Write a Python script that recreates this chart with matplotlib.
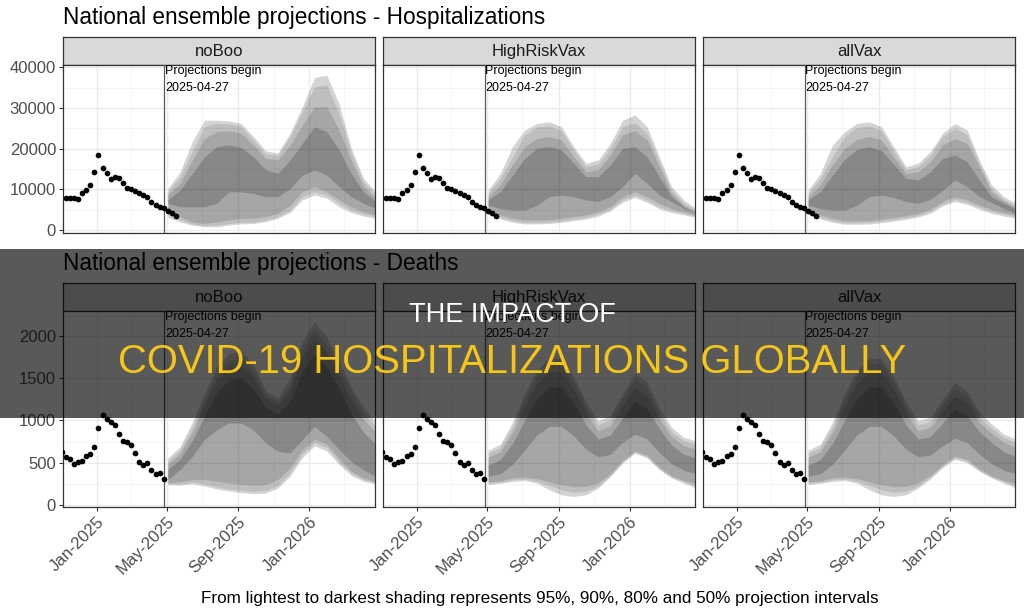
import matplotlib.pyplot as plt
import matplotlib.dates as mdates
import matplotlib.ticker as mticker
from matplotlib.patches import Rectangle
import pandas as pd

plt.rcParams["font.family"] = ["Liberation Sans", "DejaVu Sans"]

SCENARIOS = ["noBoo", "HighRiskVax", "allVax"]
PROJ_START = pd.Timestamp("2025-04-27")

# observed weekly data (same in every scenario panel)
obs_hosp_dates = pd.date_range("2024-11-09", periods=28, freq="7D")
obs_hosp = [7870, 7870, 7870, 7700, 9000, 9800, 11000, 14200, 18500, 15300, 14000, 12600,
            13100, 12900, 11600, 10400, 10100, 9600, 9100, 8500, 8000, 7000, 6100, 5700,
            5400, 4700, 4100, 3500]
obs_death_dates = pd.date_range("2024-11-02", periods=26, freq="7D")
obs_death = [623, 567, 544, 484, 512, 516, 575, 607, 687, 917, 1063, 1016, 980, 952, 841,
             762, 746, 706, 619, 508, 468, 496, 417, 365, 377, 313]

# projection dates (every 3 weeks)
proj_dates = pd.date_range("2025-05-03", periods=18, freq="21D")

# --- hospitalizations: quantile bounds ---
h_noboo_lo95 = [3100, 2000, 1200, 800, 800, 1200, 1500, 1600, 2000, 2900, 4300, 7400, 8600, 7800, 5700, 4300, 3400, 2900]
h_noboo_lo90 = [3700, 2500, 1500, 1100, 1200, 1600, 1900, 1900, 2500, 3300, 4900, 8200, 9400, 8600, 6600, 4900, 3900, 3300]
h_noboo_lo80 = [4500, 3300, 2000, 1600, 2000, 2500, 2900, 2900, 3300, 4100, 6100, 9400, 10700, 9400, 7400, 5700, 4500, 3700]
h_noboo_lo50 = [6600, 5700, 5700, 5700, 6600, 9400, 9400, 9000, 8200, 8200, 10200, 13500, 14800, 13500, 10700, 8200, 6600, 5300]
h_noboo_hi50 = [7400, 9800, 13900, 18000, 20500, 20900, 20300, 18000, 14800, 13900, 17200, 21300, 25400, 24200, 19700, 13900, 9400, 7000]
h_noboo_hi80 = [8600, 11500, 17200, 22500, 24200, 24400, 23800, 20900, 17600, 17200, 20900, 25800, 30300, 30300, 24600, 17200, 10700, 7800]
h_noboo_hi90 = [9400, 13100, 19300, 25400, 26200, 26100, 25400, 22100, 18700, 18400, 23000, 29100, 35200, 35700, 28700, 18900, 11900, 8600]
h_noboo_hi95 = [10200, 14300, 21700, 27000, 27000, 26800, 26200, 23000, 19500, 18900, 23800, 30300, 37500, 38100, 31100, 20100, 12700, 9400]

h_hrv_lo95 = [3900, 2700, 1900, 1500, 1500, 1600, 1900, 2300, 2700, 3400, 4700, 6800, 8000, 6800, 5200, 4300, 3700, 3100]
h_hrv_lo90 = [4300, 3100, 2300, 1900, 1900, 2000, 2300, 2700, 3100, 3900, 5100, 7400, 8600, 7400, 5700, 4800, 4100, 3400]
h_hrv_lo80 = [4900, 3700, 2900, 2500, 2500, 2500, 2900, 3300, 3700, 4500, 5700, 8200, 9400, 8200, 6600, 5300, 4500, 3700]
h_hrv_lo50 = [6100, 5300, 4900, 4900, 6100, 8200, 8600, 8200, 7400, 7000, 8200, 10700, 13900, 11500, 8600, 7000, 5300, 4100]
h_hrv_hi50 = [7400, 9400, 13500, 17600, 20100, 20500, 19700, 16400, 13100, 13100, 16000, 20100, 20500, 18000, 13100, 8200, 5700, 4100]
h_hrv_hi80 = [8200, 11100, 16000, 20500, 22500, 23000, 22100, 18000, 14300, 14800, 18400, 23400, 24400, 22100, 15600, 9000, 6100, 4500]
h_hrv_hi90 = [9000, 12700, 18000, 23400, 25400, 25600, 24400, 19700, 15600, 16200, 20100, 25400, 26400, 23800, 16800, 9800, 6600, 4900]
h_hrv_hi95 = [9800, 13900, 20500, 24600, 26200, 26600, 25400, 20500, 16400, 17200, 21300, 27000, 28300, 25400, 18000, 10700, 7400, 5300]

h_allvax_lo95 = [3900, 2700, 1900, 1400, 1400, 1500, 1800, 2200, 2600, 3200, 4100, 5900, 7000, 6300, 5100, 4100, 3400, 2900]
h_allvax_lo90 = [4300, 3100, 2300, 1800, 1800, 1900, 2200, 2600, 3000, 3600, 4600, 6400, 7500, 6800, 5600, 4600, 3900, 3300]
h_allvax_lo80 = [4900, 3700, 2900, 2300, 2300, 2300, 2700, 3100, 3500, 4100, 5100, 7000, 8200, 7400, 6100, 5100, 4300, 3700]
h_allvax_lo50 = [6100, 5300, 4900, 4900, 6100, 8200, 8600, 8000, 7000, 6600, 7500, 9800, 12300, 10700, 8200, 6700, 5300, 4100]
h_allvax_hi50 = [7400, 9400, 13500, 17400, 19800, 20500, 19500, 16200, 12700, 12300, 14300, 17600, 18400, 16800, 12300, 8200, 6600, 5100]
h_allvax_hi80 = [8200, 11100, 16000, 20100, 22300, 23000, 22100, 18000, 13900, 14300, 16800, 20900, 22500, 21300, 15600, 9400, 7100, 5600]
h_allvax_hi90 = [9000, 12700, 18000, 23000, 25200, 25600, 24400, 19500, 14800, 15600, 18400, 23000, 25000, 23400, 16400, 10200, 7500, 5900]
h_allvax_hi95 = [9800, 13900, 20900, 24200, 26200, 26600, 25400, 20500, 15600, 16400, 19300, 23800, 26200, 24600, 17200, 11100, 8200, 6600]

# --- deaths: quantile bounds ---
d_noboo_lo95 = [240, 235, 250, 225, 190, 165, 145, 135, 140, 200, 340, 560, 700, 640, 480, 350, 280, 250]
d_noboo_lo90 = [250, 250, 270, 250, 215, 190, 170, 160, 170, 230, 380, 600, 740, 680, 510, 375, 300, 262]
d_noboo_lo80 = [265, 275, 300, 300, 280, 260, 245, 235, 240, 300, 440, 650, 780, 720, 550, 400, 320, 275]
d_noboo_lo50 = [300, 420, 575, 775, 890, 970, 970, 890, 735, 635, 615, 775, 930, 815, 655, 515, 415, 335]
d_noboo_hi50 = [420, 540, 760, 1050, 1330, 1480, 1500, 1380, 1150, 1080, 1230, 1580, 1780, 1640, 1380, 1080, 860, 720]
d_noboo_hi80 = [480, 610, 860, 1180, 1480, 1630, 1660, 1520, 1260, 1180, 1360, 1760, 1980, 1810, 1530, 1240, 1010, 860]
d_noboo_hi90 = [520, 650, 920, 1250, 1560, 1710, 1740, 1590, 1310, 1220, 1430, 1850, 2080, 1900, 1620, 1330, 1090, 930]
d_noboo_hi95 = [555, 690, 980, 1320, 1640, 1790, 1820, 1660, 1360, 1260, 1500, 1940, 2170, 1990, 1700, 1400, 1150, 990]

d_hrv_lo95 = [240, 258, 278, 290, 258, 180, 120, 100, 120, 200, 337, 496, 615, 556, 420, 320, 258, 200]
d_hrv_lo90 = [258, 270, 300, 305, 280, 230, 180, 150, 160, 225, 350, 510, 625, 570, 430, 330, 275, 225]
d_hrv_lo80 = [275, 285, 320, 330, 310, 275, 240, 215, 220, 265, 370, 530, 640, 590, 450, 345, 290, 255]
d_hrv_lo50 = [340, 370, 480, 650, 830, 930, 930, 820, 660, 570, 600, 740, 840, 780, 620, 490, 410, 370]
d_hrv_hi50 = [470, 540, 730, 1000, 1260, 1400, 1400, 1210, 950, 780, 830, 1030, 1230, 1140, 900, 710, 600, 560]
d_hrv_hi80 = [565, 630, 860, 1170, 1440, 1580, 1570, 1370, 1080, 880, 940, 1170, 1390, 1290, 1020, 810, 700, 660]
d_hrv_hi90 = [615, 680, 930, 1260, 1540, 1680, 1670, 1460, 1160, 950, 1010, 1260, 1490, 1380, 1090, 870, 760, 720]
d_hrv_hi95 = [650, 720, 980, 1320, 1600, 1740, 1730, 1520, 1220, 1000, 1060, 1320, 1560, 1450, 1150, 920, 800, 760]

d_allvax_lo95 = [240, 258, 278, 290, 258, 180, 120, 100, 120, 200, 310, 440, 540, 500, 400, 320, 258, 200]
d_allvax_lo90 = [258, 270, 300, 305, 280, 230, 180, 150, 160, 225, 330, 460, 560, 520, 410, 330, 275, 225]
d_allvax_lo80 = [275, 285, 320, 330, 310, 275, 240, 215, 220, 265, 350, 480, 580, 540, 430, 345, 290, 255]
d_allvax_lo50 = [340, 370, 480, 650, 830, 930, 930, 820, 660, 570, 590, 700, 790, 740, 600, 490, 410, 370]
d_allvax_hi50 = [470, 540, 730, 1000, 1260, 1400, 1400, 1210, 950, 780, 810, 970, 1130, 1060, 870, 740, 630, 570]
d_allvax_hi80 = [565, 630, 860, 1170, 1440, 1580, 1570, 1370, 1080, 880, 920, 1110, 1290, 1200, 980, 850, 740, 680]
d_allvax_hi90 = [615, 680, 930, 1260, 1540, 1680, 1670, 1460, 1160, 950, 990, 1190, 1380, 1280, 1040, 910, 800, 740]
d_allvax_hi95 = [650, 720, 980, 1320, 1600, 1740, 1730, 1520, 1220, 1000, 1040, 1250, 1450, 1350, 1100, 960, 840, 780]

HOSP_BANDS = [
    [(h_noboo_lo95, h_noboo_hi95), (h_noboo_lo90, h_noboo_hi90), (h_noboo_lo80, h_noboo_hi80), (h_noboo_lo50, h_noboo_hi50)],
    [(h_hrv_lo95, h_hrv_hi95), (h_hrv_lo90, h_hrv_hi90), (h_hrv_lo80, h_hrv_hi80), (h_hrv_lo50, h_hrv_hi50)],
    [(h_allvax_lo95, h_allvax_hi95), (h_allvax_lo90, h_allvax_hi90), (h_allvax_lo80, h_allvax_hi80), (h_allvax_lo50, h_allvax_hi50)],
]
DEATH_BANDS = [
    [(d_noboo_lo95, d_noboo_hi95), (d_noboo_lo90, d_noboo_hi90), (d_noboo_lo80, d_noboo_hi80), (d_noboo_lo50, d_noboo_hi50)],
    [(d_hrv_lo95, d_hrv_hi95), (d_hrv_lo90, d_hrv_hi90), (d_hrv_lo80, d_hrv_hi80), (d_hrv_lo50, d_hrv_hi50)],
    [(d_allvax_lo95, d_allvax_hi95), (d_allvax_lo90, d_allvax_hi90), (d_allvax_lo80, d_allvax_hi80), (d_allvax_lo50, d_allvax_hi50)],
]
BAND_ALPHA = [0.17, 0.10, 0.125, 0.18]  # 95, 90, 80, 50 (stacked)

XLIM = (pd.Timestamp("2025-01-01") - pd.Timedelta(days=57.9), pd.Timestamp("2025-01-01") + pd.Timedelta(days=477.8))

# layout (figure fractions)
W, H = 1024, 614
PANEL_X = [63, 383.3, 703.3]
PANEL_W = 312
DARK = "#333333"
TICK_C = "#4d4d4d"


def fx(px):
    return px / W


def fy(py):
    return 1 - py / H


def strip(fig, x, top, bottom, label):
    s = fig.add_axes([fx(x), fy(bottom), fx(PANEL_W), (bottom - top) / H])
    s.set_facecolor("#d9d9d9")
    s.set_xticks([]); s.set_yticks([])
    for sp in s.spines.values():
        sp.set_color(DARK); sp.set_linewidth(0.9)
    s.text(0.5, 0.47, label, ha="center", va="center", fontsize=12, color="#1a1a1a", transform=s.transAxes)


def panel(fig, x, top, bottom, dates, vals, bands, ylim, major, minor, show_x, show_y):
    ax = fig.add_axes([fx(x), fy(bottom), fx(PANEL_W), (bottom - top) / H])
    ax.grid(which="major", color="#ebebeb", lw=1.0, zorder=0)
    ax.grid(which="minor", color="#f3f3f3", lw=0.6, zorder=0)
    ax.set_axisbelow(True)
    for (lo, hi), a in zip(bands, BAND_ALPHA):
        ax.fill_between(proj_dates, lo, hi, color="black", alpha=a, lw=0, zorder=2)
    ax.axvline(PROJ_START, color="#5a5a5a", lw=0.9, zorder=3)
    ax.plot(dates, vals, "o", color="black", ms=4.1, mew=0, zorder=4)
    tr = ax.get_xaxis_transform()
    ax.annotate("Projections begin", (mdates.date2num(PROJ_START), 1), xycoords=tr,
                xytext=(0.5, -6.6), textcoords="offset points", fontsize=9, va="baseline", ha="left")
    ax.annotate("2025-04-27", (mdates.date2num(PROJ_START), 1), xycoords=tr,
                xytext=(0.5, -18.8), textcoords="offset points", fontsize=9, va="baseline", ha="left")
    ax.set_xlim(*XLIM); ax.set_ylim(*ylim)
    ax.xaxis.set_major_locator(mdates.MonthLocator(bymonth=[1, 5, 9]))
    ax.xaxis.set_minor_locator(mdates.MonthLocator(bymonth=[3, 7, 11]))
    ax.xaxis.set_major_formatter(mdates.DateFormatter("%b-%Y"))
    ax.yaxis.set_major_locator(mticker.MultipleLocator(major))
    ax.yaxis.set_minor_locator(mticker.MultipleLocator(minor))
    for sp in ax.spines.values():
        sp.set_color(DARK); sp.set_linewidth(0.9)
    ax.tick_params(which="minor", length=0)
    ax.tick_params(axis="y", which="major", length=3 if show_y else 0, color=DARK, width=0.8,
                   labelleft=show_y, labelsize=12, labelcolor=TICK_C, pad=2)
    ax.tick_params(axis="x", which="major", length=3 if show_x else 0, color=DARK, width=0.8,
                   labelbottom=show_x, labelsize=12, labelcolor=TICK_C, pad=2)
    if show_x:
        for lab in ax.get_xticklabels():
            lab.set_rotation(45); lab.set_ha("right"); lab.set_va("top")
            lab.set_rotation_mode("anchor")
    return ax


fig = plt.figure(figsize=(W / 100, H / 100), dpi=100)

fig.text(fx(63), fy(24), "National ensemble projections - Hospitalizations", fontsize=16.3, va="baseline")
fig.text(fx(63), fy(270), "National ensemble projections - Deaths", fontsize=16.3, va="baseline")

for i, name in enumerate(SCENARIOS):
    strip(fig, PANEL_X[i], 37.3, 65, name)
    panel(fig, PANEL_X[i], 65, 233.3, obs_hosp_dates, obs_hosp, HOSP_BANDS[i],
          (-811, 40566), 10000, 5000, False, i == 0)
    strip(fig, PANEL_X[i], 282.7, 311, name)
    panel(fig, PANEL_X[i], 311, 507, obs_death_dates, obs_death, DEATH_BANDS[i],
          (-24, 2296), 500, 250, True, i == 0)

fig.text(fx(539.5), fy(602.7), "From lightest to darkest shading represents 95%, 90%, 80% and 50% projection intervals",
         fontsize=12.3, ha="center", va="baseline")

# dark banner with headline on top of everything
fig.add_artist(Rectangle((0, fy(418)), 1, (418 - 249) / H, transform=fig.transFigure,
                         facecolor="black", alpha=0.65, lw=0, zorder=10))
fig.text(0.5, fy(321.7), "THE IMPACT OF", color="white", fontsize=19.5, ha="center", va="baseline", zorder=11)
fig.text(0.5, fy(373.3), "COVID-19 HOSPITALIZATIONS GLOBALLY", color="#f5c518", fontsize=28.8,
         ha="center", va="baseline", zorder=11)

fig.savefig("out.png", dpi=100)
